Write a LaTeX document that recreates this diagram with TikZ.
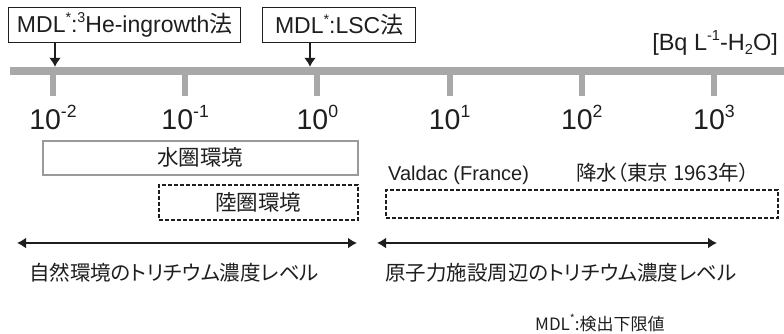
\documentclass[tikz,border=0pt]{standalone}
\usepackage{fontspec}
\setmainfont{Liberation Sans}
\newfontfamily\jp{Noto Sans CJK JP}
\newfontfamily\jpp[RawFeature=+palt]{Noto Sans CJK JP}
\usetikzlibrary{arrows.meta}
\newcommand\upx[1]{\raisebox{0.42em}{\scalebox{0.62}{#1}}}
\newcommand\dnx[1]{\raisebox{-0.18em}{\scalebox{0.62}{#1}}}
\definecolor{axisgray}{HTML}{A8A8A8}
\definecolor{boxgray}{HTML}{9A9A9A}
\definecolor{ink}{HTML}{1E1E1E}
\tikzset{
  mdlbox/.style={draw=ink, line width=1.4pt, inner sep=0pt, anchor=north west, text=ink, font=\fontsize{23}{26}\selectfont},
  tick/.style={fill=axisgray, inner sep=0pt, minimum width=6pt, minimum height=21pt, anchor=north},
  ticklab/.style={anchor=base, inner sep=0pt, text=ink, font=\fontsize{28.5}{32}\selectfont},
  solidbox/.style={draw=boxgray, line width=1.6pt, inner sep=0pt, anchor=north west, text=ink, font=\jp\fontsize{21.5}{24}\selectfont},
  dashbox/.style={draw=ink, line width=1.5pt, dash pattern=on 4pt off 2pt, inner sep=0pt, anchor=north west, text=ink, font=\jp\fontsize{21.5}{24}\selectfont},
  arr/.style={draw=ink, line width=2pt, -{Latex[length=9pt,width=12pt]}},
  dbl/.style={draw=ink, line width=2.2pt, {Latex[length=9pt,width=11pt]}-{Latex[length=9pt,width=11pt]}},
  lab/.style={inner sep=0pt, text=ink},
}
\begin{document}
\begin{tikzpicture}[x=1pt,y=-1pt]
\useasboundingbox (0,0) rectangle (784,333);
% axis bar
\node[fill=axisgray, inner sep=0pt, minimum width=774pt, minimum height=8pt, anchor=west] (bar) at (10,71) {};
% ticks
\foreach \i/\x in {0/53,1/185.2,2/317.4,3/449.6,4/581.8,5/714}{
  \node[tick] (t\i) at (\x,75) {};
}
% tick labels
\node[ticklab] (l0) at (53,129) {10\upx{-2}};
\node[ticklab] (l1) at (185.2,129) {10\upx{-1}};
\node[ticklab] (l2) at (317.4,129) {10\upx{0}};
\node[ticklab] (l3) at (449.6,129) {10\upx{1}};
\node[ticklab] (l4) at (581.8,129) {10\upx{2}};
\node[ticklab] (l5) at (714,129) {10\upx{3}};
% MDL boxes
\node[mdlbox, minimum width=232pt, minimum height=35pt] (m1) at (8,7) {MDL\upx{*}:\upx{3}He-ingrowth{\jp 法}};
\node[mdlbox, minimum width=153pt, minimum height=35pt] (m2) at (262,7) {MDL\upx{*}:LSC{\jp 法}};
\coordinate (a1) at (55,0);
\coordinate (a2) at (310,0);
\draw[arr] (m1.south -| a1) -- (bar.north -| a1);
\draw[arr] (m2.south -| a2) -- (bar.north -| a2);
% unit
\node[lab, anchor=east, font=\fontsize{23.5}{26}\selectfont] (unit) at (778,43) {[Bq L\upx{-1}-H\dnx{2}O]};
% environment boxes
\node[solidbox, minimum width=315pt, minimum height=34pt] (water) at (42,140) {水圏環境};
\node[dashbox, minimum width=199pt, minimum height=35pt] (land) at (158,184) {陸圏環境};
\node[dashbox, minimum width=392pt, minimum height=28pt] (fac) at (385,189) {};
\node[lab, anchor=base west, font=\fontsize{20}{24}\selectfont] (valdac) at (388,180) {Valdac (France)};
\node[lab, anchor=base west, font=\jpp\fontsize{20.5}{24}\selectfont] (rain) at (576,180) {降水（東京 1963年）};
% range arrows
\coordinate (r1) at (17,243);
\coordinate (r2) at (357,243);
\coordinate (r3) at (377,243);
\coordinate (r4) at (717,243);
\draw[dbl] (r1) -- (r2);
\draw[dbl] (r3) -- (r4);
\node[lab, anchor=west, font=\jpp\fontsize{20.5}{24}\selectfont] (nat) at (29,273) {自然環境のトリチウム濃度レベル};
\node[lab, anchor=west, font=\jpp\fontsize{20.5}{24}\selectfont] (nuc) at (385,273) {原子力施設周辺のトリチウム濃度レベル};
\node[lab, anchor=west, font=\jpp\fontsize{17}{20}\selectfont] (note) at (535,323) {MDL\upx{*}:検出下限値};
\end{tikzpicture}
\end{document}
